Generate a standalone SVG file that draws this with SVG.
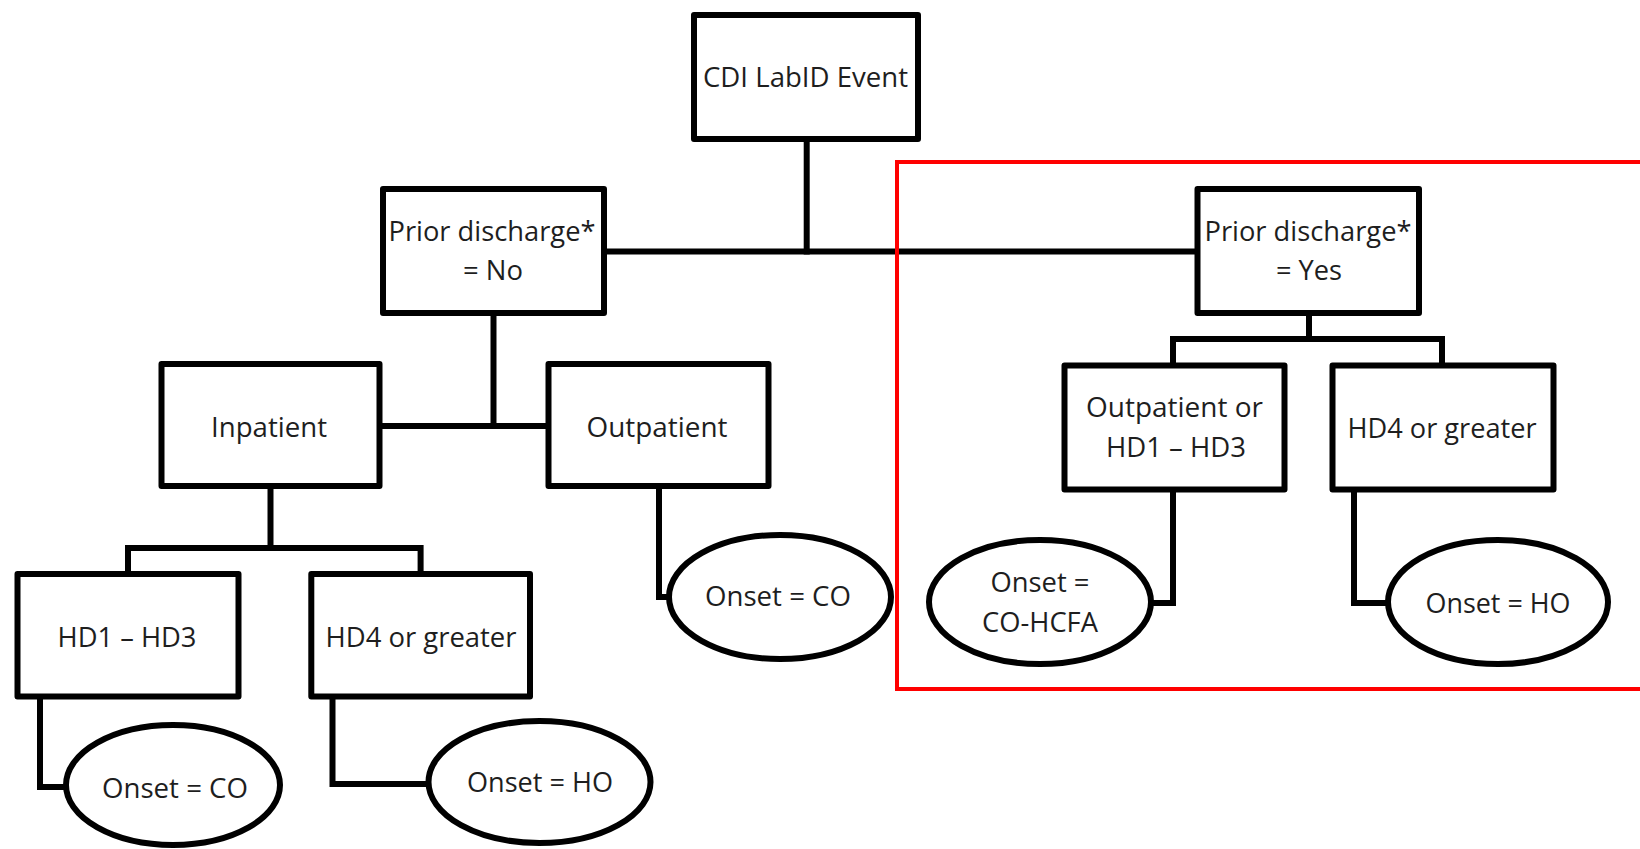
<svg xmlns="http://www.w3.org/2000/svg" width="1640" height="849" viewBox="0 0 1640 849">
<style>
.box{fill:#ffffff;stroke:#000000;stroke-width:6;stroke-linejoin:round}
.ell{fill:#ffffff;stroke:#000000;stroke-width:6}
.con{fill:none;stroke:#000000;stroke-width:6;stroke-linejoin:miter;stroke-linecap:square}
.t{font-family:"Open Sans","Liberation Sans",sans-serif;font-size:28px;fill:#1e1e1e}
</style>
<rect width="1640" height="849" fill="#ffffff"/>
<g id="connectors">
<path class="con" d="M806.7 141 V251.5"/>
<path class="con" d="M604 251.5 H1195"/>
<path class="con" d="M493.5 316 V426"/>
<path class="con" d="M382 426 H546"/>
<path class="con" d="M270.5 488 V548"/>
<path class="con" d="M128 572 V548 H420.6 V572"/>
<path class="con" d="M40 699 V787 H66"/>
<path class="con" d="M332.5 699 V784 H429"/>
<path class="con" d="M659 488 V597 H670"/>
<path class="con" d="M1309 316 V339"/>
<path class="con" d="M1173 363 V339 H1442 V363"/>
<path class="con" d="M1173 492 V603 H1151"/>
<path class="con" d="M1354 492 V603 H1388"/>
</g>
<g id="cdi">
<rect class="box" x="694" y="15" width="224" height="124"/>
<text class="t" x="703" y="87" textLength="205" lengthAdjust="spacingAndGlyphs">CDI LabID Event</text>
</g>
<g id="prior-no">
<rect class="box" x="383" y="189" width="221" height="124"/>
<text class="t" x="388.5" y="241" textLength="207" lengthAdjust="spacingAndGlyphs">Prior discharge*</text>
<text class="t" x="463" y="280" textLength="60" lengthAdjust="spacingAndGlyphs">= No</text>
</g>
<g id="prior-yes">
<rect class="box" x="1197.5" y="189" width="221.5" height="124"/>
<text class="t" x="1204.5" y="241" textLength="207" lengthAdjust="spacingAndGlyphs">Prior discharge*</text>
<text class="t" x="1276" y="280" textLength="66" lengthAdjust="spacingAndGlyphs">= Yes</text>
</g>
<g id="inpatient">
<rect class="box" x="161.5" y="364" width="218" height="122"/>
<text class="t" x="211" y="437" textLength="116" lengthAdjust="spacingAndGlyphs">Inpatient</text>
</g>
<g id="outpatient">
<rect class="box" x="548.5" y="364" width="220" height="122"/>
<text class="t" x="586.5" y="437" textLength="141" lengthAdjust="spacingAndGlyphs">Outpatient</text>
</g>
<g id="hd1-hd3">
<rect class="box" x="17.5" y="574" width="221" height="122.5"/>
<text class="t" x="57.5" y="647" textLength="139" lengthAdjust="spacingAndGlyphs">HD1 – HD3</text>
</g>
<g id="hd4-left">
<rect class="box" x="311.3" y="574" width="218.7" height="122.5"/>
<text class="t" x="325.5" y="647" textLength="191" lengthAdjust="spacingAndGlyphs">HD4 or greater</text>
</g>
<g id="onset-co-left">
<ellipse class="ell" cx="173" cy="785" rx="107" ry="60"/>
<text class="t" x="102" y="798" textLength="146" lengthAdjust="spacingAndGlyphs">Onset = CO</text>
</g>
<g id="onset-ho-left">
<ellipse class="ell" cx="539.5" cy="782" rx="111" ry="61"/>
<text class="t" x="467" y="792" textLength="146" lengthAdjust="spacingAndGlyphs">Onset = HO</text>
</g>
<g id="onset-co-mid">
<ellipse class="ell" cx="780" cy="597" rx="111" ry="62"/>
<text class="t" x="705" y="606" textLength="146" lengthAdjust="spacingAndGlyphs">Onset = CO</text>
</g>
<g id="outpatient-or-hd">
<rect class="box" x="1064.5" y="365.5" width="220" height="124"/>
<text class="t" x="1086" y="417" textLength="177" lengthAdjust="spacingAndGlyphs">Outpatient or</text>
<text class="t" x="1106" y="457" textLength="140" lengthAdjust="spacingAndGlyphs">HD1 – HD3</text>
</g>
<g id="hd4-right">
<rect class="box" x="1332.5" y="365.5" width="221" height="124"/>
<text class="t" x="1347.5" y="438" textLength="189" lengthAdjust="spacingAndGlyphs">HD4 or greater</text>
</g>
<g id="onset-co-hcfa">
<ellipse class="ell" cx="1040" cy="602" rx="111" ry="62"/>
<text class="t" x="990.5" y="592" textLength="99" lengthAdjust="spacingAndGlyphs">Onset =</text>
<text class="t" x="982" y="632" textLength="116" lengthAdjust="spacingAndGlyphs">CO-HCFA</text>
</g>
<g id="onset-ho-right">
<ellipse class="ell" cx="1498" cy="602" rx="110" ry="62"/>
<text class="t" x="1425.5" y="613" textLength="145" lengthAdjust="spacingAndGlyphs">Onset = HO</text>
</g>
<g id="highlight">
<path d="M1645 162 H897 V689 H1645" fill="none" stroke="#ff0000" stroke-width="4"/>
</g>
</svg>
